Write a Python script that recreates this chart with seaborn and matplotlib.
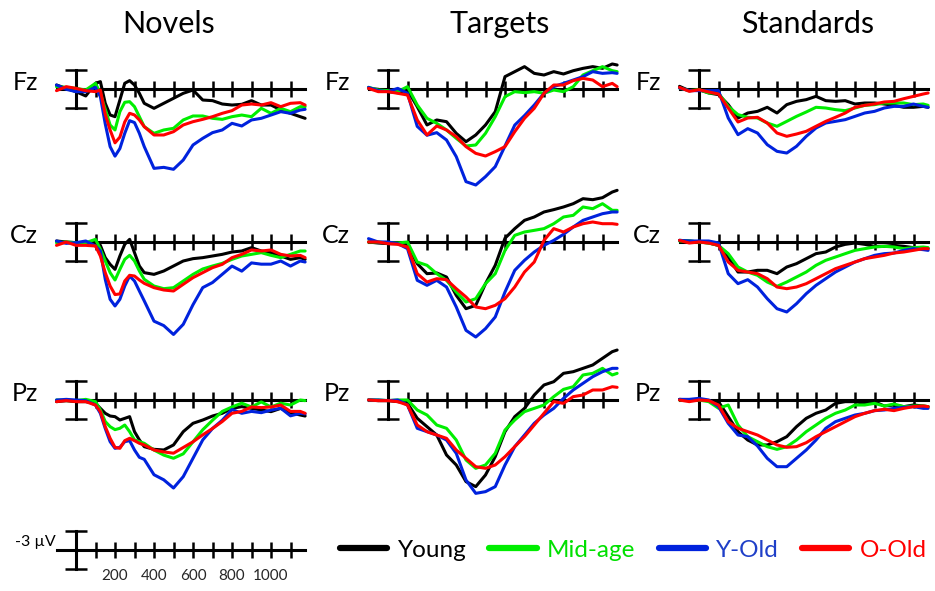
import numpy as np
import pandas as pd
import matplotlib
matplotlib.use('Agg')
import matplotlib.pyplot as plt
from matplotlib.lines import Line2D
import seaborn as sns

sns.set_theme(style='white')
plt.rcParams['font.family'] = ['Lato', 'DejaVu Sans']

groups = ['Young', 'Mid-age', 'Y-Old', 'O-Old']
line_colors = ['#000000', '#00EE00', '#0022DD', '#FF0000']
text_colors = ['#000000', '#00E000', '#1F3FC8', '#FF0000']
conditions = ['Novels', 'Targets', 'Standards']
sites = ['Fz', 'Cz', 'Pz']

# time points (ms); novels sampled finer around the early peaks
t_nov = [-100, -50, 0, 50, 100, 125, 150, 175, 200, 225, 250, 275, 300, 325, 350,
         400, 450, 500, 550, 600, 650, 700, 750, 800, 850, 900, 950, 1000, 1050,
         1100, 1150, 1175]
t_oth = [-100, -50, 0, 50, 100, 150, 200, 250, 300, 350, 400, 450, 500, 550, 600,
         650, 700, 750, 800, 850, 900, 950, 1000, 1050, 1100, 1150, 1175]

# amplitudes in microvolts (negative plotted up)
nov_fz_young = [-0.63, -0.1, 0.42, 1.1, -0.9, -1.16, 2.26, 4.1, 4.37, 1.74, -0.9, -1.32, -0.63, 0.68, 2.26,
                3.05, 2.26, 1.47, 0.68, 0.16, 1.74, 1.84, 2.37, 2.53, 2.42, 1.84, 2.53, 2.53, 3.3, 3.84, 4.37, 4.63]
nov_fz_mid = [-0.37, -0.26, -0.1, 0.16, -0.9, 0.68, 3.2, 5.68, 6.47, 3.58, 2.1, 2.0, 2.79, 4.37, 5.95,
              7.0, 6.47, 6.21, 4.89, 4.26, 4.26, 4.63, 4.79, 4.37, 4.11, 4.37, 3.05, 3.84, 3.05, 3.58, 2.79, 2.79]
nov_fz_yold = [-0.63, 0.05, 0.42, 0.42, -0.26, 1.21, 5.5, 9.1, 10.6, 9.4, 7.0, 5.0, 5.3, 7.0, 9.1,
               12.53, 12.37, 12.68, 11.21, 8.84, 7.79, 6.89, 6.47, 5.42, 5.84, 4.89, 4.63, 4.11, 3.58, 3.84, 3.32, 3.21]
nov_fz_oold = [0.26, -0.37, -0.1, 0.26, 0.42, 0.16, 4.0, 6.47, 8.5, 7.6, 5.2, 3.84, 4.1, 4.89, 5.95,
               7.26, 7.26, 6.74, 5.68, 5.16, 4.79, 4.37, 3.84, 3.42, 2.53, 2.37, 2.53, 2.16, 2.79, 2.26, 2.16, 2.53]

nov_cz_young = [-0.16, 0.0, 0.11, 0.21, -0.16, 0.53, 2.47, 3.53, 4.32, 2.21, 0.37, -0.42, 1.68, 3.79, 4.84,
                5.11, 4.58, 3.79, 3.0, 2.63, 2.47, 2.21, 1.95, 1.58, 1.42, 0.89, 1.42, 1.68, 2.21, 2.74, 2.47, 2.74]
nov_cz_mid = [0.11, 0.0, 0.11, 0.11, -0.42, 1.16, 3.0, 4.84, 6.0, 4.32, 2.74, 2.1, 3.0, 4.58, 5.89,
              6.95, 7.37, 7.21, 6.16, 5.11, 4.26, 3.79, 3.37, 2.74, 2.21, 1.95, 1.68, 2.11, 2.47, 1.95, 1.42, 1.42]
nov_cz_yold = [-0.16, 0.21, 0.11, -0.16, 0.63, 1.42, 5.9, 9.05, 10.1, 9.05, 6.95, 5.37, 6.16, 7.74, 9.3,
               12.5, 13.2, 14.6, 13.0, 9.9, 7.2, 6.4, 5.1, 3.8, 4.6, 3.3, 3.5, 3.5, 3.0, 3.8, 3.0, 3.16]
nov_cz_oold = [0.53, 0.0, 0.53, 0.53, 0.63, 2.21, 4.84, 6.95, 8.3, 8.2, 6.16, 5.26, 5.37, 6.0, 6.53,
               7.21, 7.58, 7.74, 6.68, 5.63, 4.84, 4.05, 3.53, 2.47, 1.95, 1.26, 1.42, 1.26, 1.95, 2.21, 2.11, 2.47]

nov_pz_young = [0.26, 0.1, 0.26, 0.26, 0.53, 1.32, 2.1, 2.53, 2.63, 3.16, 2.9, 2.63, 5.0, 6.3, 7.37,
                7.79, 7.89, 7.1, 5.0, 3.68, 3.16, 2.53, 2.1, 1.32, 1.05, 1.32, 1.58, 1.84, 1.32, 2.0, 2.37, 2.53]
nov_pz_mid = [0.0, 0.1, 0.1, -0.1, 0.26, 1.58, 3.4, 4.21, 4.68, 4.47, 3.95, 5.0, 6.3, 6.58, 6.84,
              7.9, 8.7, 9.2, 8.5, 6.6, 4.7, 3.2, 1.8, 1.1, 0.5, 1.1, 0.3, 1.1, 0.5, 0.8, 0.0, 0.1]
nov_pz_yold = [0.0, -0.1, 0.0, 0.1, 0.8, 2.1, 4.5, 6.58, 7.63, 7.47, 6.58, 6.42, 7.89, 9.05, 9.37,
               11.8, 12.6, 13.9, 12.1, 9.2, 6.3, 4.5, 3.2, 1.5, 2.1, 1.8, 2.0, 1.6, 1.3, 2.5, 2.1, 2.2]
nov_pz_oold = [0.26, 0.1, 0.26, 0.26, 0.8, 1.84, 4.2, 6.05, 7.47, 7.63, 6.42, 6.05, 6.42, 6.84, 7.1,
               7.9, 8.2, 8.4, 7.5, 6.6, 5.5, 4.5, 3.4, 2.1, 1.8, 1.1, 1.2, 1.1, 0.8, 1.8, 1.8, 2.1]

tar_fz_young = [-0.1, 0.05, 0.42, 0.58, 0.16, 2.79, 5.68, 4.89, 5.16, 7.0, 8.32, 7.26, 5.68, 3.58,
                -1.95, -2.74, -3.53, -2.47, -2.21, -2.74, -2.37, -2.89, -3.26, -3.53, -3.26, -3.95, -3.79]
tar_fz_mid = [-0.26, 0.16, 0.26, 0.42, -0.37, 2.53, 4.63, 5.42, 6.47, 7.79, 9.0, 8.84, 7.0, 4.37,
              1.21, 0.42, 0.58, 0.42, 0.68, 0.16, 0.42, -0.37, -2.21, -2.89, -3.53, -2.89, -2.74]
tar_fz_yold = [-0.26, 0.26, 0.42, -0.1, 0.68, 5.9, 7.3, 6.89, 8.05, 10.68, 14.63, 15.16, 13.84, 12.26,
               9.0, 5.7, 4.2, 2.53, 0.68, -0.37, -0.89, -1.42, -1.95, -2.74, -2.47, -2.58, -2.47]
tar_fz_oold = [-0.1, 0.42, 0.42, 0.68, 0.95, 4.89, 7.26, 5.84, 6.47, 7.53, 9.1, 10.16, 10.58, 9.89,
               9.1, 6.74, 4.63, 3.05, 0.68, -0.63, -0.63, -1.32, -1.68, -1.42, -0.37, -0.89, -0.37]

tar_cz_young = [0.0, 0.16, 0.26, 0.26, 0.53, 3.42, 5.0, 4.89, 5.53, 8.42, 10.53, 10.0, 6.58, 3.68,
                -0.6, -2.11, -3.42, -3.95, -4.74, -5.11, -5.53, -6.05, -6.84, -6.68, -7.0, -7.89, -8.16]
tar_cz_mid = [0.0, 0.0, 0.16, 0.16, 0.0, 3.16, 3.68, 5.0, 6.05, 7.89, 9.47, 8.95, 6.58, 5.0,
              1.32, -1.05, -1.58, -1.84, -2.11, -2.89, -3.95, -4.21, -5.53, -5.26, -6.05, -5.0, -5.0]
tar_cz_yold = [-0.53, 0.0, 0.0, 0.26, 1.05, 6.05, 6.84, 6.05, 7.11, 10.26, 13.95, 15.0, 13.68, 11.84,
               7.89, 4.47, 2.89, 1.58, 0.53, -0.26, -1.21, -2.37, -3.42, -3.95, -4.47, -4.74, -4.74]
tar_cz_oold = [0.0, 0.0, 0.26, 0.37, 0.79, 5.0, 6.32, 5.79, 5.95, 7.37, 8.68, 10.26, 10.53, 10.0,
               8.95, 7.11, 4.74, 3.16, -0.26, -2.11, -1.58, -2.37, -2.89, -3.16, -2.89, -2.89, -2.79]

tar_pz_young = [0.0, 0.1, 0.1, 0.26, 0.53, 2.89, 4.21, 5.53, 8.68, 10.26, 12.89, 13.68, 11.84, 8.95,
                5.0, 2.63, 1.32, -0.79, -2.37, -2.89, -4.21, -4.47, -5.0, -5.53, -6.58, -7.63, -7.89]
tar_pz_mid = [0.0, 0.0, 0.1, 0.0, 0.0, 1.58, 2.37, 3.95, 4.47, 6.32, 9.47, 10.79, 10.26, 8.42,
              4.74, 3.16, 1.84, 1.32, 0.79, -0.53, -1.68, -2.1, -3.95, -4.21, -5.0, -3.95, -4.21]
tar_pz_yold = [0.0, 0.0, 0.1, 0.0, 0.79, 4.47, 5.0, 5.53, 6.32, 8.42, 12.63, 14.74, 14.47, 13.68,
               10.26, 7.37, 5.53, 3.68, 2.37, 1.32, -0.26, -1.58, -2.63, -3.68, -4.47, -5.0, -5.0]
tar_pz_oold = [0.0, 0.1, 0.1, 0.26, 0.79, 3.95, 5.0, 5.53, 6.05, 7.89, 9.21, 10.53, 10.79, 10.26,
               8.95, 7.37, 5.79, 3.95, 2.1, 0.26, 0.53, -0.53, -0.79, -1.58, -1.58, -2.1, -2.0]

std_fz_young = [-0.42, 0.26, 0.11, 0.63, 0.89, 2.47, 4.58, 3.79, 3.53, 2.89, 3.79, 2.47, 1.95, 1.68,
                1.16, 1.84, 1.95, 1.84, 2.37, 2.21, 2.21, 2.37, 2.58, 2.89, 2.89, 2.74, 2.89]
std_fz_mid = [-0.16, 0.26, 0.11, 0.63, 0.63, 2.74, 4.05, 4.47, 4.58, 5.37, 5.89, 5.11, 4.32, 3.63,
              2.89, 3.0, 3.26, 3.42, 3.0, 2.58, 2.47, 2.21, 2.21, 2.21, 2.47, 2.37, 2.58]
std_fz_yold = [-0.16, 0.26, 0.26, 0.26, 0.26, 4.58, 7.21, 6.26, 6.95, 8.79, 9.84, 10.11, 9.05, 7.47,
               6.16, 5.37, 5.11, 4.84, 4.32, 3.79, 3.53, 3.0, 2.74, 2.74, 2.37, 2.74, 2.89]
std_fz_oold = [-0.26, 0.37, 0.11, 0.47, 0.79, 3.0, 5.21, 4.58, 4.47, 5.37, 6.95, 7.47, 7.11, 6.68,
               5.89, 5.11, 4.47, 3.79, 2.89, 2.58, 2.37, 2.05, 1.95, 1.53, 1.16, 0.79, 0.63]

std_cz_young = [-0.26, -0.16, 0.0, 0.16, 0.53, 2.37, 4.74, 4.74, 4.47, 4.47, 5.0, 3.95, 3.42, 2.63,
                1.84, 1.58, 0.79, 0.37, 0.16, 0.37, 0.68, 0.68, 0.53, 0.68, 0.89, 1.05, 1.05]
std_cz_mid = [-0.16, -0.16, 0.0, 0.16, 0.53, 1.84, 3.95, 4.74, 5.26, 6.32, 7.0, 6.32, 5.53, 4.74,
              3.68, 2.89, 2.37, 1.84, 1.32, 1.05, 0.79, 0.68, 0.79, 1.05, 0.89, 0.79, 0.89]
std_cz_yold = [-0.26, -0.16, -0.16, -0.16, 0.16, 5.0, 6.58, 5.95, 7.11, 8.95, 10.53, 11.05, 9.74, 8.16,
               6.84, 5.79, 4.74, 3.95, 3.16, 2.63, 2.11, 1.84, 1.74, 1.32, 1.05, 1.21, 1.32]
std_cz_oold = [-0.26, 0.16, 0.0, 0.16, 0.53, 3.16, 4.47, 4.74, 5.0, 5.79, 7.11, 7.37, 7.11, 6.58,
               5.79, 5.0, 4.21, 3.68, 3.16, 2.63, 2.37, 2.11, 1.74, 1.58, 1.32, 1.05, 1.05]

std_pz_young = [-0.1, 0.0, 0.0, 0.1, 0.26, 2.63, 5.0, 6.32, 7.1, 7.1, 6.58, 5.79, 4.21, 2.89,
                2.1, 1.58, 0.53, 0.26, 0.26, 0.53, 0.26, 0.95, 0.79, 1.05, 0.79, 0.95, 1.05]
std_pz_mid = [0.0, 0.0, 0.0, 0.26, 1.3, 0.79, 3.95, 5.79, 6.58, 7.37, 7.79, 7.37, 6.32, 5.0,
              3.95, 2.89, 2.1, 1.58, 0.79, 0.79, 0.53, 0.95, 0.63, 1.05, 0.95, 0.95, 1.05]
std_pz_yold = [-0.1, -0.1, -0.26, 0.0, 1.05, 3.68, 5.53, 5.79, 7.26, 9.21, 10.53, 10.53, 9.21, 7.89,
               6.32, 4.47, 3.42, 2.89, 2.37, 2.1, 1.68, 1.58, 1.32, 1.16, 1.05, 1.32, 1.32]
std_pz_oold = [0.0, 0.26, 0.0, 0.1, 0.79, 3.42, 4.47, 5.0, 5.53, 6.32, 7.1, 7.47, 7.37, 6.74,
               5.79, 5.0, 4.21, 3.42, 2.63, 2.1, 1.68, 1.47, 1.68, 1.32, 1.05, 0.95, 1.05]

tick_ms = [100, 200, 300, 400, 500, 600, 700, 800, 900, 1000, 1100]
tick_labels = ['', '200', '', '400', '', '600', '', '800', '', '1000', '']

panels = {
    ('Novels', 'Fz'): (t_nov, [nov_fz_young, nov_fz_mid, nov_fz_yold, nov_fz_oold]),
    ('Novels', 'Cz'): (t_nov, [nov_cz_young, nov_cz_mid, nov_cz_yold, nov_cz_oold]),
    ('Novels', 'Pz'): (t_nov, [nov_pz_young, nov_pz_mid, nov_pz_yold, nov_pz_oold]),
    ('Targets', 'Fz'): (t_oth, [tar_fz_young, tar_fz_mid, tar_fz_yold, tar_fz_oold]),
    ('Targets', 'Cz'): (t_oth, [tar_cz_young, tar_cz_mid, tar_cz_yold, tar_cz_oold]),
    ('Targets', 'Pz'): (t_oth, [tar_pz_young, tar_pz_mid, tar_pz_yold, tar_pz_oold]),
    ('Standards', 'Fz'): (t_oth, [std_fz_young, std_fz_mid, std_fz_yold, std_fz_oold]),
    ('Standards', 'Cz'): (t_oth, [std_cz_young, std_cz_mid, std_cz_yold, std_cz_oold]),
    ('Standards', 'Pz'): (t_oth, [std_pz_young, std_pz_mid, std_pz_yold, std_pz_oold]),
}

# layout in pixels
W, H = 935, 591
PX_MS = 0.195
PX_UV = 19 / 3
XMIN, XMAX = -130, 1200
YMIN, YMAX = -9, 16
col_x0 = {'Novels': 76, 'Targets': 388, 'Standards': 699}
row_y0 = {'Fz': 89, 'Cz': 242, 'Pz': 400}
title_x = {'Novels': 169, 'Targets': 500, 'Standards': 808}

fig = plt.figure(figsize=(W / 100, H / 100), dpi=100)
fig.patch.set_facecolor('white')


def make_axes(x0, y0):
    left = x0 + XMIN * PX_MS
    top = y0 + YMIN * PX_UV
    w = (XMAX - XMIN) * PX_MS
    h = (YMAX - YMIN) * PX_UV
    ax = fig.add_axes([left / W, 1 - (top + h) / H, w / W, h / H])
    ax.set_facecolor('none')
    ax.set_xlim(XMIN, XMAX)
    ax.set_ylim(YMAX, YMIN)
    ax.spines['top'].set_visible(False)
    ax.spines['right'].set_visible(False)
    for s in ['bottom', 'left']:
        ax.spines[s].set_position(('data', 0))
        ax.spines[s].set_linewidth(2.2)
        ax.spines[s].set_color('black')
    ax.spines['bottom'].set_bounds(-100, 1175)
    ax.spines['left'].set_bounds(-3, 3)
    ax.set_xticks(tick_ms)
    ax.set_yticks([-3, 3])
    ax.tick_params(axis='x', bottom=True, direction='inout', length=12, width=1.8,
                   color='black', labelbottom=False)
    ax.tick_params(axis='y', left=True, direction='inout', length=16, width=1.8,
                   color='black', labelleft=False)
    return ax


for (cond, site), (times, series) in panels.items():
    ax = make_axes(col_x0[cond], row_y0[site])
    df = pd.DataFrame({
        'time': np.tile(times, len(groups)),
        'amp': np.concatenate(series),
        'group': np.repeat(groups, len(times)),
    })
    sns.lineplot(data=df, x='time', y='amp', hue='group', hue_order=groups,
                 palette=line_colors, estimator=None, sort=False, linewidth=2.2,
                 legend=False, ax=ax)
    for ln in ax.lines:
        ln.set_zorder(3)
        ln.set_solid_joinstyle('round')
    ax.set_xlabel('')
    ax.set_ylabel('')
    ax.text(-195, -0.95, site, ha='right', va='center', fontsize=18, color='black')

for cond in conditions:
    fig.text(title_x[cond] / W, 1 - 24 / H, cond, ha='center', va='center',
             fontsize=22, color='black')

# scale bar
sax = make_axes(76, 550)
sax.tick_params(axis='x', labelbottom=True, labelsize=11, pad=8)
sax.set_xticklabels(tick_labels)
sax.text(-106, -1.3, '-3 µV', ha='right', va='center', fontsize=11.5, color='black')

handles = [Line2D([], [], color=c, lw=4.5) for c in line_colors]
fig.legend(handles, groups, loc='center left', bbox_to_anchor=(340 / W, 1 - 550 / H),
           ncol=4, frameon=False, fontsize=17.5, handlelength=1.95, handletextpad=0.42,
           columnspacing=0.95, borderpad=0, borderaxespad=0, labelcolor=text_colors)

fig.savefig('out.png', dpi=100, facecolor='white')
